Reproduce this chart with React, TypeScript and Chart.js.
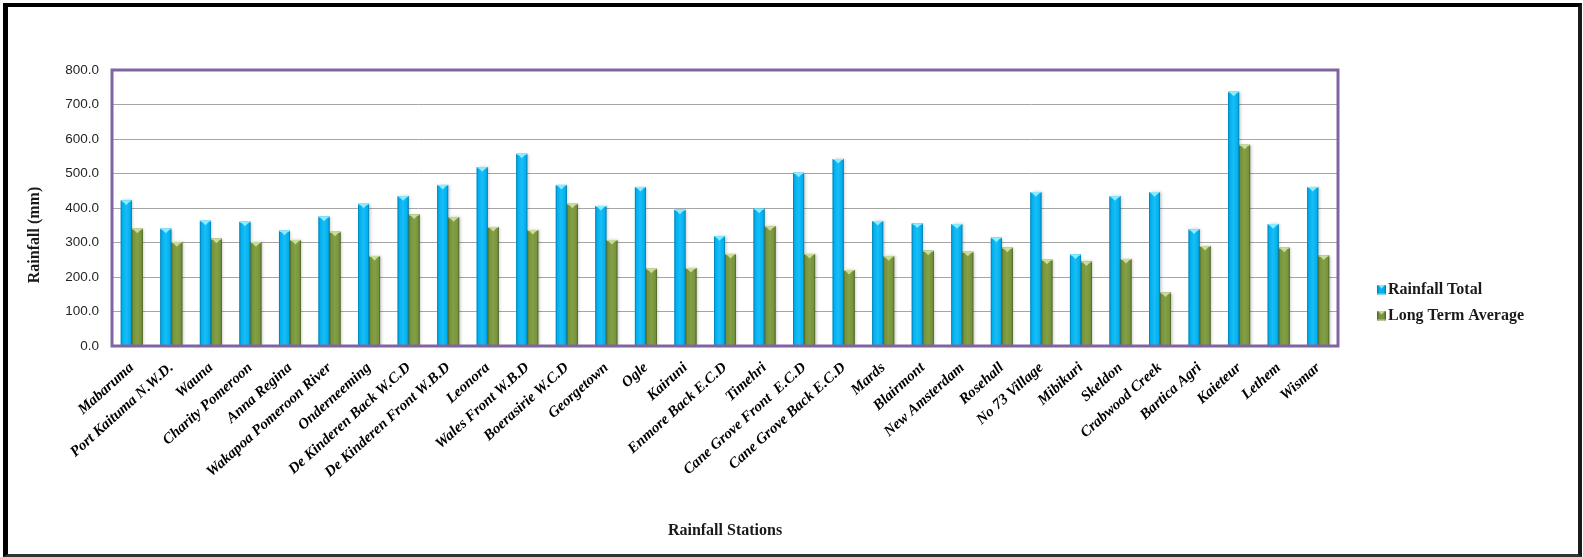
import { useEffect, useRef } from "react";
import { Chart, registerables } from "chart.js";

Chart.register(...registerables);

// Monthly rainfall per station (mm)
const stations = [
  "Mabaruma",
  "Port Kaituma N.W.D.",
  "Wauna",
  "Charity Pomeroon",
  "Anna Regina",
  "Wakapoa Pomeroon River",
  "Onderneeming",
  "De Kinderen Back W.C.D",
  "De Kinderen Front W.B.D",
  "Leonora",
  "Wales Front W.B.D",
  "Boerasirie W.C.D",
  "Georgetown",
  "Ogle",
  "Kairuni",
  "Enmore Back E.C.D",
  "Timehri",
  "Cane Grove Front  E.C.D",
  "Cane Grove Back E.C.D",
  "Mards",
  "Blairmont",
  "New Amsterdam",
  "Rosehall",
  "No 73 Village",
  "Mibikuri",
  "Skeldon",
  "Crabwood Creek",
  "Bartica Agri",
  "Kaieteur",
  "Lethem",
  "Wismar",
];

const rainfallTotal = [
  422, 340, 363, 360, 334, 375, 412, 434, 467, 518, 557, 467, 406, 461, 395, 318,
  398, 502, 542, 362, 355, 353, 314, 446, 265, 434, 446, 338, 737, 353, 461,
];

const longTermAverage = [
  340, 301, 311, 301, 307, 331, 261, 381, 373, 345, 336, 412, 307, 224, 226, 267,
  347, 267, 220, 260, 276, 273, 285, 250, 245, 252, 155, 290, 583, 285, 262,
];

const seriesNames = ["Rainfall Total", "Long Term Average"];
const yAxisTitle = "Rainfall (mm)";
const xAxisTitle = "Rainfall Stations";

const shades = [
  { base: "#00B0F0", edge: "#0079A8", light: "#19BDF5", top: "#8DEBFF" },
  { base: "#77933C", edge: "#4B6024", light: "#84A045", top: "#C9DC9A" },
];

const SERIF = "'Liberation Serif', 'Times New Roman', serif";
const SANS = "'Liberation Sans', Arial, sans-serif";

// Small legend marker: square swatch with a bevelled top
function makeMarker(s: { base: string; edge: string; top: string }) {
  const c = document.createElement("canvas");
  c.width = 14;
  c.height = 10;
  const g = c.getContext("2d")!;
  const x0 = 5;
  const w = 9;
  const grad = g.createLinearGradient(x0, 0, x0 + w, 0);
  grad.addColorStop(0, s.edge);
  grad.addColorStop(0.25, s.base);
  grad.addColorStop(0.75, s.base);
  grad.addColorStop(1, s.edge);
  g.fillStyle = grad;
  g.fillRect(x0, 0.5, w, 9);
  g.fillStyle = s.top;
  g.beginPath();
  g.moveTo(x0 + 1, 0.5);
  g.lineTo(x0 + w - 1, 0.5);
  g.lineTo(x0 + w / 2, 4);
  g.closePath();
  g.fill();
  return c;
}

// Re-paints each bar as a shaded column with a light bevel at its top
const barShading = {
  id: "barShading",
  afterDatasetsDraw(chart: any) {
    const ctx = chart.ctx;
    chart.data.datasets.forEach((_ds: any, di: number) => {
      const meta = chart.getDatasetMeta(di);
      const s = shades[di];
      meta.data.forEach((el: any) => {
        const { x, y, base, width } = el.getProps(["x", "y", "base", "width"], true);
        const left = x - width / 2;
        const right = x + width / 2;
        const top = Math.min(y, base);
        const h = Math.abs(base - y);
        ctx.save();
        ctx.shadowColor = "rgba(0,0,0,0.22)";
        ctx.shadowBlur = 3;
        ctx.shadowOffsetX = 1.5;
        ctx.shadowOffsetY = 0;
        const grad = ctx.createLinearGradient(left, 0, right, 0);
        grad.addColorStop(0, s.edge);
        grad.addColorStop(0.14, s.base);
        grad.addColorStop(0.5, s.light);
        grad.addColorStop(0.86, s.base);
        grad.addColorStop(1, s.edge);
        ctx.fillStyle = grad;
        ctx.fillRect(left, top, width, h);
        ctx.restore();
        ctx.save();
        ctx.fillStyle = s.top;
        ctx.fillRect(left + 0.5, top, width - 1, 1);
        ctx.beginPath();
        ctx.moveTo(left + 1, top);
        ctx.lineTo(right - 1, top);
        ctx.lineTo(x, top + 4.5);
        ctx.closePath();
        ctx.fill();
        ctx.restore();
      });
    });
  },
};

// Purple frame around the plot area
const plotFrame = {
  id: "plotFrame",
  afterDatasetsDraw(chart: any) {
    const { ctx, chartArea } = chart;
    ctx.save();
    ctx.strokeStyle = "#8064A2";
    ctx.lineWidth = 3;
    ctx.strokeRect(
      chartArea.left,
      chartArea.top,
      chartArea.right - chartArea.left,
      chartArea.bottom - chartArea.top
    );
    ctx.restore();
  },
};

// Vertical axis title, set a little below the plot's middle
const yTitle = {
  id: "yTitle",
  afterDraw(chart: any) {
    const { ctx, chartArea } = chart;
    ctx.save();
    ctx.translate(35, (chartArea.top + chartArea.bottom) / 2 + 27);
    ctx.rotate(-Math.PI / 2);
    ctx.font = `bold 16px ${SERIF}`;
    ctx.fillStyle = "#1a1a1a";
    ctx.textAlign = "center";
    ctx.textBaseline = "middle";
    ctx.fillText(yAxisTitle, 0, 0);
    ctx.restore();
  },
};

// Legend occupies a fixed band on the right and sits lower, beside the bars
const legendPlacement = {
  id: "legendPlacement",
  beforeLayout(chart: any) {
    const lg = chart.legend;
    if (lg && !lg._bandFixed) {
      const fit = lg.fit.bind(lg);
      lg.fit = function () {
        fit();
        this.width = 245;
      };
      lg._bandFixed = true;
    }
  },
  afterLayout(chart: any) {
    const lg = chart.legend;
    if (!lg) return;
    const h = lg.bottom - lg.top;
    lg.left = chart.chartArea.right + 30;
    lg.top = chart.chartArea.top + 201.5;
    lg.bottom = lg.top + h;
  },
};

export default function App() {
  const ref = useRef<HTMLCanvasElement | null>(null);

  useEffect(() => {
    if (!ref.current) return;
    const markers = shades.map(makeMarker);
    const chart = new Chart(ref.current, {
      type: "bar",
      data: {
        labels: stations,
        datasets: [
          {
            label: seriesNames[0],
            data: rainfallTotal,
            backgroundColor: shades[0].base,
            categoryPercentage: 0.556,
            barPercentage: 1,
          },
          {
            label: seriesNames[1],
            data: longTermAverage,
            backgroundColor: shades[1].base,
            categoryPercentage: 0.556,
            barPercentage: 1,
          },
        ],
      },
      options: {
        responsive: false,
        animation: false,
        devicePixelRatio: 1,
        layout: { padding: { top: 70, left: 0, right: 0, bottom: 0 } },
        plugins: {
          tooltip: { enabled: false },
          legend: {
            position: "right",
            align: "start",
            labels: {
              usePointStyle: true,
              boxWidth: 2,
              boxHeight: 16,
              padding: 10,
              color: "#1a1a1a",
              font: { family: SERIF, size: 16, weight: "bold" },
              generateLabels(c: any) {
                const items = Chart.defaults.plugins.legend.labels.generateLabels(c);
                return items.map((it: any, i: number) => ({ ...it, pointStyle: markers[i] }));
              },
            },
          },
        },
        scales: {
          x: {
            grid: { display: false },
            border: { display: false },
            ticks: {
              autoSkip: false,
              minRotation: 42,
              maxRotation: 42,
              padding: 5,
              color: "#000",
              font: { family: SERIF, size: 15, weight: "bold", style: "italic" },
            },
            title: {
              display: true,
              text: xAxisTitle,
              color: "#1a1a1a",
              font: { family: SERIF, size: 16, weight: "bold" },
              padding: { top: 0, bottom: 17 },
            },
            afterFit(scale: any) {
              scale.height = 211;
            },
          },
          y: {
            min: 0,
            max: 800,
            grid: { color: "#A6A6A6", lineWidth: 1, drawTicks: false },
            border: { display: false },
            ticks: {
              stepSize: 100,
              padding: 13,
              color: "#262626",
              font: { family: SANS, size: 13.5 },
              callback: (v: any) => Number(v).toFixed(1),
            },
            afterFit(scale: any) {
              scale.width = 112;
            },
          },
        },
      },
      plugins: [legendPlacement, barShading, plotFrame, yTitle],
    } as any);
    return () => chart.destroy();
  }, []);

  return (
    <div
      style={{
        position: "absolute",
        left: 0,
        top: 0,
        width: 1583,
        height: 557,
        background: "#fff",
        overflow: "hidden",
      }}
    >
      <canvas
        ref={ref}
        width={1583}
        height={557}
        style={{ position: "absolute", left: 0, top: 0, display: "block" }}
      />
      <div
        style={{
          position: "absolute",
          left: 3,
          top: 3,
          width: 1579,
          height: 554,
          boxSizing: "border-box",
          borderLeft: "5px solid #000",
          borderTop: "4px solid #000",
          borderRight: "4px solid #1a1a1a",
          borderBottom: "3px solid #333",
          pointerEvents: "none",
        }}
      />
    </div>
  );
}
